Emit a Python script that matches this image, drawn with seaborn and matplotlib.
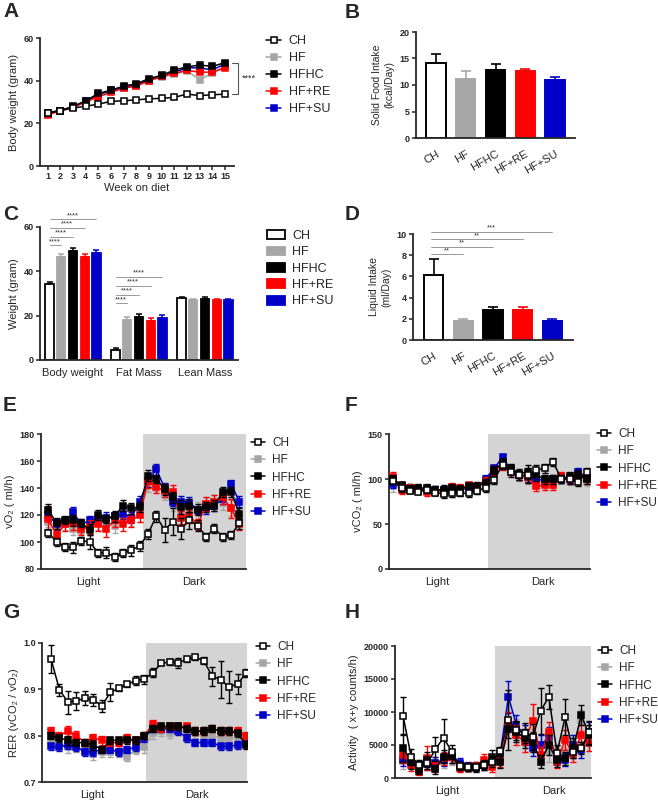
import numpy as np
import pandas as pd
import matplotlib
matplotlib.use('Agg')
import matplotlib.pyplot as plt
import seaborn as sns

sns.set_style('ticks')
plt.rcParams['font.family'] = ['Liberation Sans', 'DejaVu Sans']

groups = ['CH', 'HF', 'HFHC', 'HF+RE', 'HF+SU']
line_colors = ['black', '#a6a6a6', 'black', '#ff0000', '#0000c8']
face_colors = ['white', '#a6a6a6', 'black', '#ff0000', '#0000c8']
zorders = [6, 2, 5, 4, 3]

# A - body weight per week
weeks = list(range(1, 16))
bw_ch = [24.8, 26.0, 27.2, 28.0, 29.0, 30.3, 30.6, 31.0, 31.5, 31.7, 32.2, 33.7, 33.0, 33.4, 33.7]
bw_hf = [24.5, 26.0, 27.5, 30.0, 32.8, 35.0, 36.5, 37.5, 40.0, 41.5, 43.0, 44.5, 40.5, 43.5, 47.0]
bw_hfhc = [25.0, 26.0, 28.0, 30.5, 34.0, 35.5, 37.5, 38.5, 41.0, 42.5, 45.0, 46.5, 47.3, 46.7, 48.5]
bw_re = [24.0, 25.8, 27.5, 30.0, 32.5, 34.5, 36.5, 37.5, 40.0, 42.0, 43.5, 44.8, 44.0, 44.0, 46.0]
bw_su = [24.5, 26.0, 27.5, 30.5, 33.5, 35.5, 37.0, 38.0, 40.5, 42.0, 44.0, 46.0, 46.0, 45.0, 48.0]

# B - solid food intake
food = [14.1, 11.1, 12.9, 12.6, 11.0]
food_err = [1.8, 1.5, 1.0, 0.4, 0.6]

# C - body composition
measures = ['Body weight', 'Fat Mass', 'Lean Mass']
comp_ch = [34.2, 4.6, 27.8]
comp_hf = [46.6, 17.9, 27.2]
comp_hfhc = [49.2, 19.6, 27.7]
comp_re = [46.6, 17.8, 26.9]
comp_su = [48.2, 19.0, 27.1]
comp_ch_err = [0.9, 1.0, 0.5]
comp_hf_err = [1.4, 1.3, 0.5]
comp_hfhc_err = [1.2, 1.1, 0.5]
comp_re_err = [1.3, 1.1, 0.5]
comp_su_err = [1.2, 1.2, 0.5]

# D - liquid intake
liquid = [6.1, 1.8, 2.8, 2.8, 1.8]
liquid_err = [1.5, 0.2, 0.3, 0.3, 0.2]

# E-H - metabolic cage time course (24 time points, light then dark)
timepoints = list(range(24))
vo2_ch = [107, 100, 96, 96, 101, 100, 92, 92, 89, 92, 94, 97, 106, 119, 109, 115, 110, 116, 112, 104, 110, 104, 105, 114]
vo2_hf = [115, 112, 113, 110, 108, 112, 114, 115, 112, 117, 118, 121, 142, 143, 135, 128, 122, 122, 122, 128, 130, 129, 125, 117]
vo2_hfhc = [124, 114, 116, 116, 114, 109, 120, 117, 119, 127, 125, 126, 149, 147, 139, 133, 126, 127, 124, 126, 127, 137, 137, 121]
vo2_re = [117, 105, 113, 114, 110, 111, 113, 110, 116, 113, 116, 120, 145, 141, 138, 137, 118, 119, 113, 128, 130, 133, 125, 113]
vo2_su = [120, 113, 115, 122, 113, 116, 117, 118, 119, 121, 118, 130, 145, 154, 140, 130, 130, 129, 124, 125, 127, 132, 143, 130]
vo2_ch_err = [3, 3, 3, 4, 3, 5, 3, 4, 3, 3, 4, 4, 4, 4, 9, 10, 8, 6, 4, 3, 3, 3, 3, 4]
vo2_hf_err = [4, 5, 4, 5, 4, 4, 5, 6, 5, 5, 6, 6, 5, 5, 4, 5, 5, 6, 8, 5, 5, 5, 6, 5]
vo2_hfhc_err = [4, 4, 3, 4, 3, 4, 4, 3, 4, 4, 4, 4, 4, 3, 4, 4, 5, 5, 4, 4, 4, 4, 4, 4]
vo2_re_err = [10, 5, 5, 5, 5, 5, 5, 6, 5, 5, 5, 5, 5, 5, 5, 5, 5, 5, 4, 5, 5, 5, 7, 4]
vo2_su_err = [4, 4, 3, 4, 4, 3, 4, 4, 3, 4, 4, 4, 4, 4, 4, 3, 4, 4, 3, 4, 4, 4, 3, 4]

vco2_ch = [98, 90, 87, 86, 88, 85, 83, 84, 84, 84, 87, 90, 99, 116, 108, 104, 104, 110, 112, 119, 100, 100, 97, 108]
vco2_hf = [92, 90, 89, 88, 88, 86, 85, 85, 86, 86, 88, 92, 102, 115, 110, 104, 100, 96, 96, 96, 100, 98, 100, 97]
vco2_hfhc = [100, 93, 89, 90, 90, 88, 88, 90, 89, 92, 92, 96, 110, 118, 112, 106, 108, 104, 100, 100, 100, 103, 105, 100]
vco2_re = [102, 88, 90, 89, 86, 87, 86, 91, 90, 93, 91, 97, 110, 115, 110, 104, 102, 92, 93, 93, 103, 100, 103, 100]
vco2_su = [95, 92, 90, 89, 89, 88, 88, 90, 88, 90, 91, 100, 112, 124, 110, 104, 102, 100, 98, 100, 102, 100, 108, 102]
vco2_ch_err = [4, 4, 3, 3, 4, 3, 4, 4, 3, 4, 4, 4, 4, 5, 6, 5, 8, 6, 5, 4, 4, 5, 5, 4]
vco2_hf_err = [6, 5, 4, 4, 4, 5, 4, 5, 5, 4, 5, 5, 5, 5, 5, 6, 6, 6, 5, 6, 5, 5, 5, 5]
vco2_hfhc_err = [5, 4, 4, 4, 4, 4, 5, 4, 4, 4, 5, 4, 4, 5, 5, 5, 8, 6, 5, 5, 4, 5, 5, 5]
vco2_re_err = [6, 5, 4, 4, 5, 5, 4, 5, 5, 4, 5, 5, 5, 5, 5, 5, 6, 5, 5, 5, 5, 5, 5, 5]
vco2_su_err = [5, 4, 4, 4, 4, 4, 4, 4, 4, 4, 4, 4, 4, 4, 5, 5, 5, 5, 4, 4, 4, 4, 4, 4]

rer_ch = [0.966, 0.899, 0.872, 0.875, 0.881, 0.877, 0.864, 0.894, 0.902, 0.911, 0.919, 0.922, 0.936, 0.956, 0.959, 0.957, 0.965, 0.969, 0.962, 0.928, 0.921, 0.905, 0.912, 0.935]
rer_hf = [0.790, 0.785, 0.775, 0.775, 0.770, 0.760, 0.765, 0.765, 0.765, 0.755, 0.770, 0.775, 0.805, 0.810, 0.805, 0.810, 0.810, 0.805, 0.800, 0.800, 0.795, 0.795, 0.795, 0.790]
rer_hfhc = [0.800, 0.795, 0.790, 0.785, 0.785, 0.780, 0.770, 0.790, 0.790, 0.790, 0.790, 0.800, 0.815, 0.820, 0.820, 0.820, 0.815, 0.810, 0.810, 0.815, 0.810, 0.810, 0.805, 0.780]
rer_re = [0.810, 0.800, 0.810, 0.800, 0.785, 0.795, 0.790, 0.785, 0.785, 0.795, 0.790, 0.800, 0.825, 0.815, 0.820, 0.820, 0.820, 0.810, 0.810, 0.815, 0.810, 0.810, 0.810, 0.800]
rer_su = [0.777, 0.775, 0.780, 0.775, 0.765, 0.765, 0.770, 0.770, 0.765, 0.770, 0.775, 0.795, 0.815, 0.815, 0.815, 0.810, 0.795, 0.785, 0.785, 0.785, 0.777, 0.777, 0.780, 0.785]
rer_ch_err = [0.030, 0.013, 0.025, 0.020, 0.015, 0.012, 0.012, 0.020, 0.006, 0.005, 0.010, 0.010, 0.010, 0.004, 0.006, 0.010, 0.005, 0.005, 0.007, 0.020, 0.040, 0.035, 0.022, 0.008]
rer_hf_err = [0.010, 0.012, 0.012, 0.010, 0.010, 0.012, 0.010, 0.010, 0.012, 0.010, 0.010, 0.012, 0.012, 0.010, 0.010, 0.008, 0.008, 0.010, 0.010, 0.010, 0.010, 0.008, 0.010, 0.010]
rer_hfhc_err = [0.008, 0.008, 0.010, 0.008, 0.008, 0.010, 0.008, 0.008, 0.008, 0.008, 0.008, 0.008, 0.008, 0.008, 0.008, 0.008, 0.008, 0.008, 0.008, 0.008, 0.008, 0.008, 0.008, 0.008]
rer_re_err = [0.008, 0.008, 0.010, 0.010, 0.008, 0.008, 0.010, 0.008, 0.008, 0.008, 0.008, 0.008, 0.008, 0.008, 0.008, 0.008, 0.008, 0.008, 0.008, 0.008, 0.008, 0.008, 0.008, 0.008]
rer_su_err = [0.008, 0.008, 0.008, 0.008, 0.008, 0.008, 0.008, 0.008, 0.008, 0.008, 0.008, 0.008, 0.008, 0.008, 0.008, 0.008, 0.008, 0.008, 0.008, 0.008, 0.008, 0.008, 0.008, 0.008]

act_ch = [9400, 3200, 2000, 2200, 4400, 6100, 4000, 1800, 1600, 1700, 2000, 2400, 4100, 8800, 7200, 6800, 6200, 10200, 12300, 3800, 9200, 4000, 4600, 6900]
act_hf = [2600, 2500, 2000, 2300, 2300, 2500, 3000, 1500, 1500, 1600, 2000, 2200, 3000, 8500, 7500, 6500, 6000, 5000, 4000, 3500, 4000, 5000, 8800, 6500]
act_hfhc = [4500, 2500, 1200, 2800, 1300, 3200, 3300, 1800, 1600, 1500, 2000, 3200, 2400, 7500, 7000, 6000, 5500, 2500, 5000, 2700, 3000, 4500, 9500, 6500]
act_re = [3500, 2000, 900, 3000, 1700, 3000, 3200, 1500, 1700, 1800, 2800, 1700, 2600, 8500, 6500, 5500, 8700, 3500, 7000, 2500, 5700, 3700, 6500, 5300]
act_su = [2800, 2500, 1900, 2100, 2300, 2800, 3200, 2300, 1800, 1800, 2000, 2500, 3600, 12300, 8000, 6500, 4500, 5000, 6200, 3000, 2800, 5000, 4300, 7000]
act_ch_err = [2800, 1200, 700, 800, 1800, 2900, 1000, 600, 500, 500, 600, 700, 600, 4500, 1500, 1500, 2000, 3500, 1800, 1200, 2700, 900, 900, 1800]
act_hf_err = [1200, 1000, 800, 900, 900, 1000, 1000, 600, 600, 600, 800, 900, 1000, 1500, 1500, 1500, 1500, 1500, 1500, 1200, 1500, 1500, 1500, 1500]
act_hfhc_err = [2000, 1200, 600, 1200, 700, 1000, 1000, 600, 600, 600, 800, 1000, 900, 1500, 1500, 1500, 1500, 1000, 1500, 1000, 1000, 1500, 1500, 1500]
act_re_err = [1200, 1000, 500, 1800, 800, 1000, 1000, 600, 600, 600, 800, 800, 900, 1500, 1500, 1500, 2500, 1200, 1500, 1000, 1500, 1200, 1500, 1200]
act_su_err = [1000, 1000, 700, 900, 900, 1000, 1000, 700, 600, 600, 800, 900, 1000, 2400, 1500, 1500, 1200, 1500, 1500, 1000, 1000, 1500, 1200, 1500]

W, H = 658, 800
fig = plt.figure(figsize=(W / 100, H / 100), dpi=100)


def add_ax(l, t, r, b):
    return fig.add_axes([l / W, 1 - b / H, (r - l) / W, (b - t) / H])


def style(ax, bold_x=True):
    sns.despine(ax=ax)
    for s in ['left', 'bottom']:
        ax.spines[s].set_linewidth(1.3)
    ax.tick_params(axis='both', width=1.1, length=3, labelsize=6.5, pad=1.5)
    for lbl in ax.get_yticklabels():
        lbl.set_fontweight('bold')
    if bold_x:
        for lbl in ax.get_xticklabels():
            lbl.set_fontweight('bold')


def legend_at(ax, handles, x, y, fontsize=9, **kw):
    ax.legend(handles, groups, loc='upper left', bbox_to_anchor=(x / W, 1 - y / H),
              bbox_transform=fig.transFigure, frameon=False, fontsize=fontsize,
              borderaxespad=0, borderpad=0, handletextpad=0.6, **kw)


def bar_errors(ax, values, errors):
    for i, (v, e) in enumerate(zip(values, errors)):
        ax.errorbar(i, v, yerr=[[0], [e]], fmt='none', ecolor=line_colors[i],
                    elinewidth=1.2, capsize=3.5, capthick=1.2, zorder=1)


def sig_line(ax, x0, x1, y, stars):
    ax.plot([x0, x1], [y, y], color='#888888', lw=0.6, clip_on=False)
    ax.text((x0 + x1) / 2, y, stars, ha='center', va='bottom', fontsize=5.5,
            color='#333333', clip_on=False)


# ---------- A ----------
axA = add_ax(40, 38, 234, 166)
bw_sets = [bw_ch, bw_hf, bw_hfhc, bw_re, bw_su]
handlesA = []
for g, vals, lc, fc, z in zip(groups, bw_sets, line_colors, face_colors, zorders):
    sns.lineplot(x=weeks, y=vals, ax=axA, color=lc, marker='s', markersize=4.5,
                 markerfacecolor=fc, markeredgecolor=lc, markeredgewidth=1.1,
                 linewidth=1.1, label=g, zorder=z)
    handlesA.append(axA.get_lines()[-1])
axA.set_xlim(0.4, 15.7)
axA.set_ylim(0, 60)
axA.set_yticks([0, 20, 40, 60])
axA.set_xticks(weeks)
axA.set_xlabel('Week on diet', fontsize=8, labelpad=1)
axA.set_ylabel('Body weight (gram)', fontsize=8, labelpad=3)
axA.plot([15.55, 16.0, 16.0, 15.55], [48.3, 48.3, 33.8, 33.8], color='#555555', lw=0.8, clip_on=False)
axA.text(16.3, 41, '****', fontsize=6.5, va='center', ha='left', clip_on=False)
style(axA)
legend_at(axA, handlesA, 266, 35, handlelength=1.2, labelspacing=0.4)

# ---------- B ----------
axB = add_ax(416, 32, 575, 138)
sns.barplot(x=groups, y=food, hue=groups, palette=dict(zip(groups, face_colors)),
            width=0.65, saturation=1, legend=False, ax=axB, zorder=2)
for p, lc in zip(axB.patches, line_colors):
    p.set_edgecolor(lc)
    p.set_linewidth(1.4)
bar_errors(axB, food, food_err)
axB.set_xlim(-0.67, 4.67)
axB.set_ylim(0, 20)
axB.set_yticks([0, 5, 10, 15, 20])
axB.set_ylabel('Solid Food Intake\n(kcal/Day)', fontsize=7.5, labelpad=4)
axB.set_xlabel('')
style(axB, bold_x=False)
axB.set_xticks(range(5))
axB.set_xticklabels(groups, rotation=30, ha='right', rotation_mode='anchor', fontsize=8)
axB.tick_params(axis='x', length=0, pad=8)

# ---------- C ----------
axC = add_ax(40, 227, 238, 360)
comp_df = pd.DataFrame({
    'measure': measures * 5,
    'group': [g for g in groups for _ in measures],
    'value': comp_ch + comp_hf + comp_hfhc + comp_re + comp_su,
})
comp_errs = [comp_ch_err, comp_hf_err, comp_hfhc_err, comp_re_err, comp_su_err]
sns.barplot(data=comp_df, x='measure', y='value', hue='group', hue_order=groups,
            palette=dict(zip(groups, face_colors)), width=0.89, gap=0.3, saturation=1,
            errorbar=None, legend=False, ax=axC, zorder=2)
centers = []
for cont, lc, errs in zip(axC.containers, line_colors, comp_errs):
    row = []
    for p, e in zip(cont, errs):
        p.set_edgecolor(lc)
        p.set_linewidth(1.3)
        cx = p.get_x() + p.get_width() / 2
        row.append(cx)
        axC.errorbar(cx, p.get_height(), yerr=[[0], [e]], fmt='none', ecolor=lc,
                     elinewidth=1.1, capsize=2.5, capthick=1.1, zorder=1)
    centers.append(row)
for k, y in enumerate([51.7, 55.7, 59.6, 63.6]):
    sig_line(axC, centers[0][0], centers[k + 1][0], y, '****')
for k, y in enumerate([25.5, 29.5, 33.5, 37.5]):
    sig_line(axC, centers[0][1], centers[k + 1][1], y, '****')
axC.set_xlim(-0.5, 2.5)
axC.set_ylim(0, 60)
axC.set_yticks([0, 20, 40, 60])
axC.set_ylabel('Weight (gram)', fontsize=8, labelpad=3)
axC.set_xlabel('')
style(axC, bold_x=False)
axC.tick_params(axis='x', length=0, labelsize=8, pad=6)
legend_at(axC, axC.containers, 267, 230, handlelength=1.4, handleheight=0.7, labelspacing=0.35)

# ---------- D ----------
axD = add_ax(413, 234, 573, 340)
sns.barplot(x=groups, y=liquid, hue=groups, palette=dict(zip(groups, face_colors)),
            width=0.65, saturation=1, legend=False, ax=axD, zorder=2)
for p, lc in zip(axD.patches, line_colors):
    p.set_edgecolor(lc)
    p.set_linewidth(1.4)
bar_errors(axD, liquid, liquid_err)
for k, (y, s) in enumerate(zip([8.1, 8.8, 9.5, 10.2], ['**', '**', '**', '***'])):
    sig_line(axD, -0.1, k + 1, y, s)
axD.set_xlim(-0.7, 4.7)
axD.set_ylim(0, 10)
axD.set_yticks([0, 2, 4, 6, 8, 10])
axD.set_ylabel('Liquid Intake\n(ml/Day)', fontsize=7.5, labelpad=4)
axD.set_xlabel('')
style(axD, bold_x=False)
axD.set_xticks(range(5))
axD.set_xticklabels(groups, rotation=30, ha='right', rotation_mode='anchor', fontsize=8)
axD.tick_params(axis='x', length=0, pad=8)


# ---------- E-H ----------
def ts_panel(ax, sets, errsets, xlim, dark_start, ylim, yticks, ylabel, label_x, leg_xy):
    ax.axvspan(dark_start, xlim[1], color='#d4d4d4', lw=0, zorder=0)
    handles = []
    for g, vals, err, lc, fc, z in zip(groups, sets, errsets, line_colors, face_colors, zorders):
        ax.errorbar(timepoints, vals, yerr=err, fmt='none', ecolor=lc, elinewidth=1,
                    capsize=2, capthick=1, zorder=z)
        sns.lineplot(x=timepoints, y=vals, ax=ax, color=lc, marker='s', markersize=4.5,
                     markerfacecolor=fc, markeredgecolor=lc, markeredgewidth=1.1,
                     linewidth=1.1, label=g, zorder=z)
        handles.append(ax.get_lines()[-1])
    ax.set_xlim(*xlim)
    ax.set_ylim(*ylim)
    ax.set_yticks(yticks)
    ax.set_ylabel(ylabel, fontsize=8, labelpad=3)
    ax.set_xlabel('')
    ax.set_xticks(label_x)
    ax.set_xticklabels(['Light', 'Dark'], fontsize=8)
    style(ax, bold_x=False)
    ax.tick_params(axis='x', length=0, labelsize=8, pad=6)
    legend_at(ax, handles, leg_xy[0], leg_xy[1], fontsize=8.5, handlelength=1.2, labelspacing=0.45)


axE = add_ax(41, 434, 246, 569)
ts_panel(axE, [vo2_ch, vo2_hf, vo2_hfhc, vo2_re, vo2_su],
         [vo2_ch_err, vo2_hf_err, vo2_hfhc_err, vo2_re_err, vo2_su_err],
         (-0.87, 23.8), 11.4, (80, 180), [80, 100, 120, 140, 160, 180],
         'vO\u2082 ( ml/h)', [4.8, 17.5], (251, 437))

axF = add_ax(389, 434, 590, 569)
ts_panel(axF, [vco2_ch, vco2_hf, vco2_hfhc, vco2_re, vco2_su],
         [vco2_ch_err, vco2_hf_err, vco2_hfhc_err, vco2_re_err, vco2_su_err],
         (-0.5, 23.4), 11.3, (0, 150), [0, 50, 100, 150],
         'vCO\u2082 ( ml/h)', [5.2, 17.8], (597, 428))

axG = add_ax(42, 643, 247, 782)
ts_panel(axG, [rer_ch, rer_hf, rer_hfhc, rer_re, rer_su],
         [rer_ch_err, rer_hf_err, rer_hfhc_err, rer_re_err, rer_su_err],
         (-1.06, 23.1), 11.2, (0.7, 1.0), [0.7, 0.8, 0.9, 1.0],
         'RER (vCO\u2082 / vO\u2082)', [4.9, 17.2], (256, 641))

axH = add_ax(395, 646, 591, 778)
ts_panel(axH, [act_ch, act_hf, act_hfhc, act_re, act_su],
         [act_ch_err, act_hf_err, act_hfhc_err, act_re_err, act_su_err],
         (-1.0, 23.2), 11.3, (0, 20000), [0, 5000, 10000, 15000, 20000],
         'Activity  ( x+y counts/h)', [5.4, 18.6], (598, 645))

for lab, x, y in [('A', 3, 2), ('B', 345, 3), ('C', 3, 205), ('D', 345, 205),
                  ('E', 3, 396), ('F', 345, 396), ('G', 3, 603), ('H', 345, 603)]:
    fig.text(x / W, 1 - y / H, lab, fontsize=15, fontweight='bold', va='top', ha='left')

fig.savefig('out.png', dpi=100)
